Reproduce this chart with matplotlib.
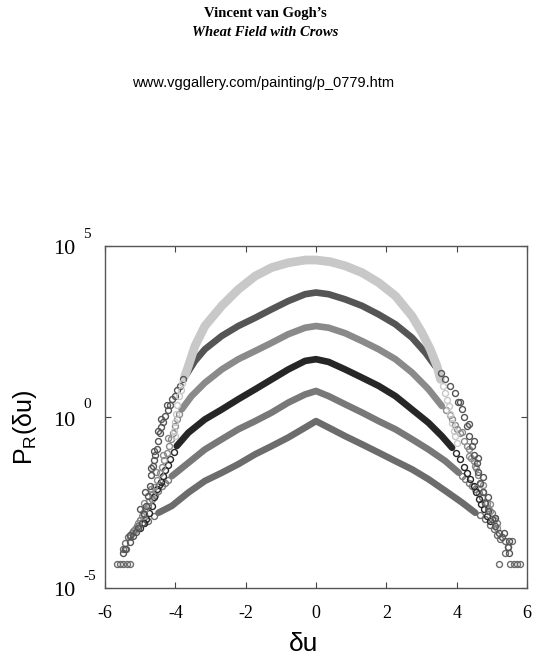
import numpy as np
import matplotlib
matplotlib.use("Agg")
import matplotlib.pyplot as plt
import matplotlib.transforms as mtransforms

plt.rcParams['font.family'] = ['Liberation Serif', 'DejaVu Serif']
plt.rcParams['mathtext.fontset'] = 'custom'
plt.rcParams['mathtext.rm'] = 'Liberation Sans'

# values, as log10 P_R(du)
# "band" = dense part of each curve, "tail" = scattered open circles

band1_x = [-3.73, -3.63, -3.44, -3.16, -2.68, -2.21, -1.73, -1.26, -0.79, -0.3, 0.0, 0.4, 0.83, 1.31, 1.78, 2.26, 2.73, 3.01, 3.25, 3.44, 3.54]
band1_e = [1.2, 1.49, 2.08, 2.66, 3.25, 3.73, 4.12, 4.37, 4.51, 4.59, 4.59, 4.54, 4.42, 4.22, 3.93, 3.54, 2.95, 2.47, 1.98, 1.49, 1.1]
tail1_x = [-3.8, -3.85, -3.9, -3.95, -3.98, -4.02, -4.05, -4.0,
           3.6, 3.68, 3.72, 3.77, 3.82, 3.87, 3.91, 3.95, 4.0]
tail1_e = [1.0, 0.8, 0.6, 0.35, 0.1, -0.15, -0.4, -0.55,
           0.9, 0.71, 0.5, 0.32, 0.1, -0.17, -0.4, -0.56, -0.75]

band2_x = [-3.68, -3.44, -3.16, -2.68, -2.21, -1.73, -1.26, -0.79, -0.31, 0.0, 0.36, 0.83, 1.31, 1.78, 2.26, 2.73, 3.11, 3.39]
band2_e = [1.25, 1.64, 1.98, 2.37, 2.66, 2.9, 3.15, 3.39, 3.59, 3.64, 3.59, 3.44, 3.25, 3.0, 2.71, 2.32, 1.88, 1.49]
tail2_x = [-3.78, -3.87, -3.95, -4.02, -4.1, -4.15, -4.22, -4.29, -4.35, -4.4, -4.44, -4.48, -4.53, -4.57, -4.6, -4.63,
           -4.68, -4.72, -4.77, -4.82, -4.9, -4.96, -5.05, -5.12, -5.19, -5.3, -5.43, -5.5,
           -4.25, -4.4, -4.5, -4.62, -4.7, -4.85, -5.0, -5.3,
           3.55, 3.68, 3.8, 3.96, 4.05, 4.15, 4.22, 4.29, 4.36, 4.44, 4.5, 4.58, 4.62, 4.67, 4.74, 4.81,
           4.9, 5.0, 5.1, 5.19, 5.3, 5.48, 5.45, 5.48,
           4.1, 4.35, 4.5, 4.62, 4.75, 4.9, 5.1, 5.35]
tail2_e = [1.1, 0.91, 0.78, 0.62, 0.52, 0.35, 0.2, 0.03, -0.15, -0.3, -0.46, -0.7, -0.95, -1.1, -1.25, -1.43,
           -1.7, -2.02, -2.3, -2.6, -2.85, -3.09, -3.25, -3.35, -3.48, -3.65, -3.87, -3.97,
           0.35, -0.05, -0.4, -1.0, -1.5, -2.2, -2.7, -3.45,
           1.3, 1.1, 0.9, 0.71, 0.45, 0.22, 0.0, -0.26, -0.55, -0.85, -1.1, -1.34, -1.6, -1.92, -2.2, -2.5,
           -2.75, -2.99, -3.2, -3.38, -3.5, -3.63, -3.8, -3.97,
           0.45, -0.2, -0.7, -1.2, -1.75, -2.35, -2.95, -3.4]

band3_x = [-3.82, -3.54, -3.16, -2.68, -2.21, -1.73, -1.26, -0.79, -0.31, 0.0, 0.36, 0.83, 1.31, 1.78, 2.26, 2.73, 3.2, 3.58]
band3_e = [0.22, 0.61, 1.0, 1.39, 1.69, 1.93, 2.17, 2.42, 2.61, 2.66, 2.61, 2.45, 2.22, 1.98, 1.69, 1.3, 0.81, 0.32]
tail3_x = [-3.9, -3.96, -4.02, -4.06, -4.12, -4.18, -4.25, -4.32, -4.38, -4.45, -4.52, -4.6, -4.67, -4.75, -4.85, -4.95, -5.05, -5.15, -5.3,
           -4.2, -4.35, -4.55, -4.7, -4.9,
           3.7, 3.8, 3.87, 3.95, 4.02, 4.1, 4.2, 4.28, 4.34, 4.42, 4.48, 4.53, 4.6, 4.67, 4.75, 4.85, 4.95, 5.05, 5.15,
           4.15, 4.35, 4.55, 4.75, 4.95]
tail3_e = [0.1, -0.07, -0.25, -0.46, -0.65, -0.85, -1.05, -1.25, -1.45, -1.65, -1.85, -2.05, -2.25, -2.45, -2.7, -2.9, -3.1, -3.3, -3.5,
           -0.6, -1.1, -1.6, -2.1, -2.5,
           0.2, 0.05, -0.07, -0.22, -0.35, -0.46, -0.7, -0.85, -0.95, -1.2, -1.3, -1.43, -1.7, -1.95, -2.2, -2.5, -2.75, -3.0, -3.25,
           -0.45, -1.15, -1.5, -2.0, -2.55]

band4_x = [-3.96, -3.63, -3.16, -2.68, -2.21, -1.73, -1.26, -0.79, -0.31, 0.0, 0.36, 0.83, 1.31, 1.78, 2.26, 2.73, 3.2, 3.58, 3.87]
band4_e = [-0.85, -0.46, -0.07, 0.22, 0.52, 0.81, 1.1, 1.39, 1.64, 1.69, 1.61, 1.39, 1.15, 0.91, 0.61, 0.22, -0.17, -0.56, -0.9]
tail4_x = [-4.05, -4.15, -4.22, -4.28, -4.34, -4.4, -4.47, -4.53, -4.6, -4.67, -4.74, -4.82, -4.9, -5.0,
           3.98, 4.1, 4.2, 4.29, 4.38, 4.48, 4.55, 4.63, 4.7, 4.77, 4.85, 4.95]
tail4_e = [-1.02, -1.24, -1.4, -1.55, -1.73, -1.9, -2.0, -2.11, -2.35, -2.6, -2.8, -2.99, -3.1, -3.25,
           -1.05, -1.24, -1.45, -1.63, -1.82, -2.02, -2.2, -2.41, -2.55, -2.7, -2.9, -3.05]

band5_x = [-4.1, -3.63, -3.16, -2.68, -2.21, -1.73, -1.26, -0.79, -0.31, 0.0, 0.36, 0.83, 1.31, 1.78, 2.26, 2.73, 3.2, 3.68, 4.06]
band5_e = [-1.73, -1.34, -0.95, -0.65, -0.36, -0.12, 0.13, 0.42, 0.66, 0.76, 0.61, 0.37, 0.13, -0.12, -0.36, -0.65, -0.95, -1.29, -1.63]
tail5_x = [-4.2, -4.3, -4.39, -4.48, -4.58, -4.67, -4.78, -4.91, -5.0, -5.1, -5.2, -5.29,
           4.15, 4.25, 4.34, 4.44, 4.53, 4.63, 4.72, 4.81, 4.9, 5.0, 5.08, 5.15]
tail5_e = [-1.83, -1.93, -2.02, -2.15, -2.28, -2.41, -2.6, -2.8, -3.0, -3.19, -3.33, -3.48,
           -1.72, -1.82, -1.92, -2.02, -2.1, -2.21, -2.35, -2.5, -2.65, -2.8, -2.95, -3.09]

band6_x = [-4.48, -4.1, -3.63, -3.16, -2.68, -2.21, -1.73, -1.26, -0.79, -0.31, 0.0, 0.36, 0.83, 1.31, 1.78, 2.26, 2.73, 3.2, 3.68, 4.15, 4.53]
band6_e = [-2.8, -2.6, -2.21, -1.87, -1.63, -1.38, -1.09, -0.85, -0.6, -0.31, -0.12, -0.31, -0.56, -0.8, -1.04, -1.29, -1.53, -1.82, -2.16, -2.5, -2.8]
tail6_x = [-4.6, -4.77, -4.9, -5.05, -5.15, -5.24, -5.34, -5.43, -5.48, -5.4, -5.67, -5.58, -5.48, -5.38, -5.29,
           4.65, 4.81, 4.95, 5.05, 5.15, 5.24, 5.38, 5.57, 5.45, 5.38, 5.19, 5.52, 5.62, 5.72, 5.8]
tail6_e = [-2.9, -3.04, -3.1, -3.19, -3.28, -3.38, -3.5, -3.67, -3.87, -3.87, -4.31, -4.31, -4.31, -4.31, -4.31,
           -2.88, -2.99, -3.15, -3.28, -3.45, -3.58, -3.63, -3.63, -3.8, -3.97, -4.31, -4.31, -4.31, -4.31, -4.31]

curves = [
    (band6_x, band6_e, tail6_x, tail6_e, '#6c6c6c', 4.8),
    (band5_x, band5_e, tail5_x, tail5_e, '#787878', 4.8),
    (band4_x, band4_e, tail4_x, tail4_e, '#262626', 4.8),
    (band3_x, band3_e, tail3_x, tail3_e, '#8a8a8a', 4.8),
    (band2_x, band2_e, tail2_x, tail2_e, '#555555', 4.8),
    (band1_x, band1_e, tail1_x, tail1_e, '#c8c8c8', 6.3),
]

fig = plt.figure(figsize=(5.33, 6.58), dpi=100)
ax = fig.add_axes([105 / 533, 70 / 658, 422 / 533, 342 / 658])

for bx, be, tx, te, col, lw in curves:
    ax.plot(bx, 10.0 ** np.array(be), '-', color=col, lw=lw, solid_capstyle='round', solid_joinstyle='round')
for bx, be, tx, te, col, lw in curves:
    ax.plot(tx, 10.0 ** np.array(te), 'o', mfc='none', mec=col, ms=4.3, mew=1.0)

ax.set_yscale('log')
ax.set_xlim(-6, 6)
ax.set_ylim(1e-5, 1e5)
ax.set_xticks([-6, -4, -2, 0, 2, 4, 6])
ax.set_xticklabels(['-6', '-4', '-2', '0', '2', '4', '6'], fontsize=13)
ax.set_yticks([1e-5, 1e0, 1e5])
ax.set_yticklabels(['', '', ''])
ax.yaxis.set_minor_locator(matplotlib.ticker.NullLocator())
ax.tick_params(direction='in', length=4, top=True, right=True, color='#444444')
ax.tick_params(axis='x', pad=12)
for s in ax.spines.values():
    s.set_color('#555555')
    s.set_linewidth(1.0)

# y tick labels drawn as 10 plus raised exponent
ytr = mtransforms.blended_transform_factory(fig.transFigure, ax.transData)
for val, sup in [(1e5, '5'), (1e0, '0'), (1e-5, '-5')]:
    t1 = ytr + mtransforms.ScaledTranslation(0, -0.04, fig.dpi_scale_trans)
    ax.text(75 / 533, val, '10', transform=t1, ha='right', va='center', fontsize=16, clip_on=False)
    t2 = ytr + mtransforms.ScaledTranslation(0, 0.12, fig.dpi_scale_trans)
    ax.text(83 / 533, val, sup, transform=t2, ha='left', va='center', fontsize=11, clip_on=False)

fig.text(304 / 533, 1 - 644 / 658, 'δu', family='Liberation Sans', fontsize=19, ha='center', va='center')
fig.text(25 / 533, 1 - 427 / 658, r'P$_\mathregular{R}$(δu)', family='Liberation Sans', fontsize=18,
         rotation=90, ha='center', va='center')

fig.text(265 / 533, 1 - 14 / 658, 'Vincent van Gogh\u2019s', fontsize=10.5, weight='bold', ha='center', va='center')
fig.text(265 / 533, 1 - 32 / 658, 'Wheat Field with Crows', fontsize=10.5, weight='bold', style='italic',
         ha='center', va='center')
fig.text(263 / 533, 1 - 83 / 658, 'www.vggallery.com/painting/p_0779.htm', family='Liberation Sans',
         fontsize=10.5, ha='center', va='center')

fig.savefig('out.png', dpi=100)
